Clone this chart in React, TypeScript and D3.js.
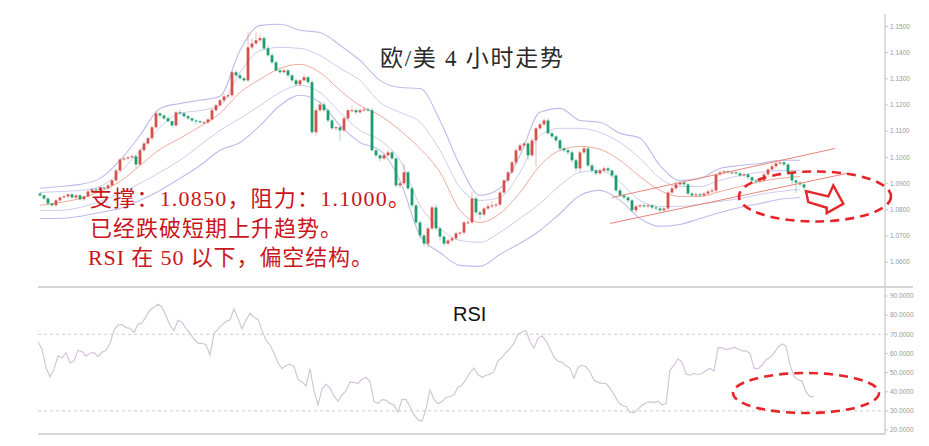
import React from 'react';
import * as d3 from 'd3';

// ---------- data ----------
const firstOpen = 1.0862;
const closes = [
  1.0855,1.0843,1.0824,1.0817,1.0836,1.0847,1.0851,1.0859,1.0847,1.0855,1.0840,1.0851,1.0870,1.0878,1.0874,1.0885,1.0882,1.0893,1.0912,1.0950,
  1.0992,1.0996,1.1000,1.1004,1.0973,1.1027,1.1053,1.1073,1.1115,1.1168,1.1160,1.1149,1.1138,1.1122,1.1172,1.1168,1.1157,1.1149,1.1141,1.1138,
  1.1134,1.1134,1.1145,1.1180,1.1199,1.1218,1.1233,1.1237,1.1325,1.1313,1.1302,1.1294,1.1420,1.1435,1.1447,1.1455,1.1416,1.1390,1.1363,1.1332,
  1.1325,1.1332,1.1313,1.1294,1.1279,1.1294,1.1306,1.1287,1.1096,1.1180,1.1202,1.1180,1.1141,1.1111,1.1115,1.1103,1.1149,1.1180,1.1180,1.1172,
  1.1180,1.1183,1.1180,1.1027,1.1008,1.0996,1.1008,1.1019,1.0996,1.0893,1.0901,1.0943,1.0882,1.0817,1.0752,1.0702,1.0671,1.0729,1.0809,1.0729,
  1.0698,1.0671,1.0683,1.0691,1.0710,1.0713,1.0752,1.0752,1.0843,1.0790,1.0782,1.0805,1.0813,1.0817,1.0820,1.0866,1.0912,1.0943,1.0981,1.1027,
  1.1046,1.1053,1.1008,1.1065,1.1111,1.1126,1.1141,1.1092,1.1080,1.1065,1.1034,1.1027,1.1019,1.0989,1.0958,1.1019,1.1034,1.0969,1.0950,1.0939,
  1.0950,1.0958,1.0950,1.0931,1.0874,1.0855,1.0847,1.0836,1.0798,1.0813,1.0817,1.0813,1.0817,1.0809,1.0805,1.0798,1.0805,1.0866,1.0882,1.0897,
  1.0904,1.0897,1.0862,1.0855,1.0859,1.0855,1.0862,1.0870,1.0874,1.0935,1.0943,1.0947,1.0943,1.0943,1.0939,1.0931,1.0935,1.0924,1.0912,1.0908,
  1.0912,1.0935,1.0954,1.0966,1.0977,1.0981,1.0973,1.0943,1.0912,1.0904,1.0897,1.0885,
];
// wick lengths in pips above/below the body
const wickUp = [
  5,4,6,3,5,4,6,3,5,4,7,4,5,3,6,4,5,6,4,5,
  6,5,4,7,5,8,6,5,8,7,6,5,8,4,6,10,5,6,4,5,
  4,6,5,7,5,6,8,6,5,9,7,6,60,20,30,15,8,12,8,6,
  7,9,5,6,7,5,10,6,8,8,12,10,6,7,5,6,8,6,18,7,
  6,8,5,9,6,5,8,10,6,5,7,35,6,6,5,7,6,8,10,12,
  6,5,7,6,8,5,6,9,25,8,8,6,12,15,10,8,6,7,5,9,
  8,6,7,10,6,8,9,10,8,6,7,8,6,9,7,8,9,6,8,7,
  6,8,7,5,6,9,5,6,7,6,5,7,6,5,8,6,5,7,10,14,
  6,8,5,6,7,5,6,8,7,5,8,6,7,5,6,8,7,5,6,5,
  7,6,5,8,6,7,9,6,7,5,6,5,
];
const wickDn = [
  6,5,7,6,4,5,3,6,5,7,5,6,4,5,6,4,7,5,4,6,
  5,6,8,5,14,6,5,6,7,5,8,6,5,7,6,5,8,6,7,12,
  6,7,8,5,6,5,7,6,8,6,5,7,6,8,6,7,8,6,7,5,
  6,5,8,7,6,9,5,8,7,14,10,7,8,6,9,40,8,7,6,8,
  5,7,6,5,8,12,6,7,5,9,10,7,6,8,9,10,12,15,8,7,
  14,10,8,6,7,9,8,6,7,10,20,8,7,6,9,8,7,10,6,8,
  7,9,18,6,100,7,6,5,8,10,7,6,9,8,10,15,7,6,8,7,
  6,7,8,6,9,7,6,8,7,10,6,5,7,6,8,7,9,6,5,7,
  6,8,7,6,5,7,6,8,5,7,6,8,6,7,5,6,7,8,6,9,
  7,6,8,5,6,7,6,8,15,40,8,6,
];
// bands sampled every 5 candles
const bandStep = 5;
const bandUpperOuter = [1.0882,1.0889,1.0897,1.0920,1.0989,1.1084,1.1187,1.1206,1.1218,1.1233,1.1408,1.1504,1.1508,1.1485,1.1477,1.1428,1.1370,1.1294,1.1267,1.1263,1.1141,1.0969,1.0855,1.0882,1.1008,1.1172,1.1187,1.1141,1.1134,1.1092,1.1073,1.0969,1.0912,1.0920,1.0958,1.0969,1.0977,1.0989,1.0989];
const bandUpperInner = [1.0866,1.0870,1.0874,1.0889,1.0943,1.1027,1.1115,1.1168,1.1179,1.1198,1.1324,1.1408,1.1420,1.1416,1.1389,1.1340,1.1294,1.1210,1.1172,1.1134,1.1027,1.0885,1.0836,1.0847,1.0943,1.1084,1.1111,1.1111,1.1095,1.1057,1.0996,1.0920,1.0889,1.0889,1.0912,1.0931,1.0943,1.0950,1.0950];
const bandMiddle = [1.0817,1.0828,1.0843,1.0870,1.0908,1.0969,1.1031,1.1073,1.1118,1.1168,1.1248,1.1298,1.1340,1.1355,1.1324,1.1256,1.1198,1.1160,1.1103,1.1034,1.0943,1.0798,1.0752,1.0786,1.0866,1.0969,1.1027,1.1042,1.1031,1.0989,1.0927,1.0874,1.0851,1.0851,1.0870,1.0889,1.0908,1.0920,1.0927];
const bandLowerInner = [1.0798,1.0798,1.0809,1.0832,1.0863,1.0901,1.0943,1.0989,1.1046,1.1103,1.1149,1.1198,1.1248,1.1275,1.1248,1.1172,1.1103,1.1065,1.0989,1.0817,1.0729,1.0683,1.0676,1.0714,1.0767,1.0824,1.0893,1.0943,1.0950,1.0905,1.0836,1.0813,1.0813,1.0821,1.0832,1.0843,1.0859,1.0870,1.0878];
const bandLowerOuter = [1.0767,1.0767,1.0775,1.0790,1.0805,1.0836,1.0874,1.0920,1.0969,1.1027,1.1057,1.1122,1.1198,1.1237,1.1210,1.1122,1.1057,1.1027,1.0912,1.0702,1.0637,1.0588,1.0584,1.0630,1.0672,1.0721,1.0786,1.0855,1.0874,1.0836,1.0767,1.0737,1.0744,1.0767,1.0790,1.0809,1.0824,1.0840,1.0847];
const rsi = [
  66.1,62.2,52.6,47.8,51.8,58.8,57.6,60.4,55.1,56.2,
  61.6,61.0,58.6,60.1,60.5,58.3,60.6,61.6,65.3,72.2,
  74.9,75.1,73.5,73.1,71.0,75.2,76.0,79.2,82.7,84.1,
  85.7,84.3,79.7,74.7,71.9,77.3,76.3,72.9,70.5,67.4,
  65.3,65.3,64.6,59.2,70.4,72.7,75.0,76.7,77.5,83.2,
  78.2,72.8,77.3,81.0,78.9,77.8,71.9,67.0,64.4,60.2,
  55.0,52.1,53.7,54.4,53.2,46.5,45.1,43.0,51.9,40.4,
  33.1,41.4,43.9,42.0,37.8,35.0,38.3,40.4,45.1,44.9,
  44.3,46.5,47.5,45.2,34.8,33.8,35.9,35.6,33.9,33.1,
  29.2,36.0,35.9,32.2,28.0,25.4,24.6,31.0,40.9,36.0,
  33.7,34.8,37.0,37.4,38.5,42.3,43.4,46.5,50.0,52.4,
  48.8,47.5,48.6,49.2,50.6,56.2,57.8,60.5,62.6,65.2,
  70.2,71.1,72.0,66.1,62.7,67.9,69.2,66.6,62.6,58.1,
  55.9,55.5,53.6,52.2,47.1,52.7,53.8,53.0,50.3,46.0,
  44.9,44.4,44.4,41.8,38.5,34.8,32.8,32.3,29.3,29.0,
  30.9,32.9,34.1,34.8,34.3,35.0,33.1,33.8,51.3,53.7,
  57.2,55.5,49.3,48.7,49.5,49.0,49.5,51.1,52.2,50.8,
  63.0,63.0,62.0,62.4,63.1,62.4,61.3,61.4,60.1,52.4,
  52.0,53.8,56.6,57.9,60.0,63.4,64.9,63.9,54.0,48.0,
  46.1,45.7,39.9,37.4,37.4,
];
const priceTicks = [1.15,1.14,1.13,1.12,1.11,1.10,1.09,1.08,1.07,1.06];
const rsiTicks = [90,80,70,60,50,40,30,20];
const rsiLevels = [70,30];
const channelUpper: [number, number][] = [[143.5,1.0847],[199.25,1.1034]];
const channelLower: [number, number][] = [[143,1.0748],[202.25,1.0939]];
const priceCircle = { t: 194.25, p: 1.0851 };
const rsiCircle = { t: 192, v: 39.3 };
const title = '欧/美 4 小时走势';
const notes = ['支撑：1.0850，阻力：1.1000。', '已经跌破短期上升趋势。', 'RSI 在 50 以下，偏空结构。'];
const rsiLabel = 'RSI';

export default function App() {
  const W = 929, H = 446;
  const x = d3.scaleLinear().domain([0, 194]).range([38, 814]);
  const yP = d3.scaleLinear().domain([1.06, 1.15]).range([262.2, 26.4]);
  const yR = d3.scaleLinear().domain([20, 90]).range([430, 296]);
  const axisX = 885;

  const candles = closes.map((c, i) => {
    const o = i === 0 ? firstOpen : closes[i - 1];
    const h = Math.max(o, c) + wickUp[i] / 10000;
    const l = Math.min(o, c) - wickDn[i] / 10000;
    return { i, o, c, h, l };
  });

  const bandLine = d3.line<number>()
    .x((_, k) => x(k * bandStep + 0.5))
    .y(d => yP(d))
    .curve(d3.curveMonotoneX);
  const rsiLine = d3.line<number>()
    .x((_, k) => x(k))
    .y(d => yR(d))
    .curve(d3.curveLinear);
  const segLine = d3.line<[number, number]>().x(d => x(d[0])).y(d => yP(d[1]));

  const up = '#d4524c';
  const down = '#1f9d6d';
  const bw = 2.8;

  const pcx = x(priceCircle.t), pcy = yP(priceCircle.p);
  const rcx = x(rsiCircle.t), rcy = yR(rsiCircle.v);
  const arrowOffsets: [number, number][] = [[-9,-5.3],[13.3,0],[18.3,-11],[28.3,7.3],[11.7,16.7],[11.7,11.3],[-6.7,5.7]];
  const arrowPts = arrowOffsets.map(([dx, dy]) => `${pcx + dx},${pcy + dy}`).join(' ');

  const serif = "'Liberation Serif','Noto Sans CJK SC',serif";
  const red = '#c8161d';

  return (
    <svg width={W} height={H} style={{ position: 'absolute', left: 0, top: 0, background: '#fff' }}>
      <rect x={0} y={0} width={W} height={H} fill="#fff" />
      {/* bands */}
      <path d={bandLine(bandUpperOuter) || ''} fill="none" stroke="#bdbdec" strokeWidth={1.1} />
      <path d={bandLine(bandUpperInner) || ''} fill="none" stroke="#cdcdf1" strokeWidth={1} />
      <path d={bandLine(bandMiddle) || ''} fill="none" stroke="#f1ab9d" strokeWidth={1} />
      <path d={bandLine(bandLowerInner) || ''} fill="none" stroke="#cdcdf1" strokeWidth={1} />
      <path d={bandLine(bandLowerOuter) || ''} fill="none" stroke="#bdbdec" strokeWidth={1.1} />

      {/* candles */}
      {candles.map(d => {
        const col = d.c >= d.o ? up : down;
        const cx = x(d.i + 0.5);
        const top = yP(Math.max(d.o, d.c));
        const bot = yP(Math.min(d.o, d.c));
        return (
          <g key={d.i}>
            <line x1={cx} x2={cx} y1={yP(d.h)} y2={yP(d.l)} stroke={col} strokeOpacity={0.5} strokeWidth={0.8} />
            <rect x={cx - bw / 2} y={top} width={bw} height={Math.max(1, bot - top)} fill={col} />
          </g>
        );
      })}

      {/* channel lines */}
      <path d={segLine(channelUpper) || ''} stroke="#e88578" strokeWidth={1} fill="none" />
      <path d={segLine(channelLower) || ''} stroke="#e88578" strokeWidth={1} fill="none" />

      {/* right axis */}
      <line x1={axisX} x2={axisX} y1={14} y2={434} stroke="#cfcfcf" strokeWidth={1.4} />
      {priceTicks.map(t => (
        <g key={'p' + t}>
          <line x1={axisX} x2={axisX + 3} y1={yP(t)} y2={yP(t)} stroke="#bbb" strokeWidth={0.8} />
          <text x={axisX + 5} y={yP(t)} dy="0.35em" fontSize={6.5} fill="#999" fontFamily="'Liberation Sans',sans-serif">{t.toFixed(4)}</text>
        </g>
      ))}

      {/* RSI panel */}
      <line x1={38} x2={913} y1={287} y2={287} stroke="#c8c8c8" strokeWidth={1.4} />
      <line x1={38} x2={axisX} y1={434} y2={434} stroke="#c8c8c8" strokeWidth={1.4} />
      {rsiLevels.map(v => (
        <line key={'l' + v} x1={38} x2={axisX} y1={yR(v)} y2={yR(v)} stroke="#cdcdcd" strokeWidth={1} strokeDasharray="3 3" />
      ))}
      {rsiTicks.map(t => (
        <g key={'r' + t}>
          <line x1={axisX} x2={axisX + 3} y1={yR(t)} y2={yR(t)} stroke="#bbb" strokeWidth={0.8} />
          <text x={axisX + 5} y={yR(t)} dy="0.35em" fontSize={6.5} fill="#999" fontFamily="'Liberation Sans',sans-serif">{t.toFixed(4)}</text>
        </g>
      ))}
      <path d={rsiLine(rsi) || ''} fill="none" stroke="#d4c5d8" strokeWidth={1.2} />
      <text x={453} y={321} fontSize={20} fill="#111" fontFamily="'Liberation Sans',Arial,sans-serif">{rsiLabel}</text>

      {/* title */}
      <text x={380} y={66} fontSize={23} fill="#2a2a2a" fontFamily={serif} textLength={183} lengthAdjust="spacing">{title}</text>

      {/* notes */}
      {notes.map((s, k) => (
        <text key={k} x={k === 2 ? 88 : 90} y={206 + k * 29.5} fontSize={22} fill={red} fontFamily={serif}
          textLength={[320, 252, 285][k]} lengthAdjust="spacing">{s}</text>
      ))}

      {/* annotations */}
      <ellipse cx={pcx} cy={pcy} rx={76} ry={25} fill="none" stroke="#e6242a" strokeWidth={2.6} strokeDasharray="9 6" />
      <polygon points={arrowPts} fill="#fff" stroke="#e6242a" strokeWidth={2.4} strokeLinejoin="miter" />
      <ellipse cx={rcx} cy={rcy} rx={73} ry={20} fill="none" stroke="#e6242a" strokeWidth={2.6} strokeDasharray="9 6" />
    </svg>
  );
}
